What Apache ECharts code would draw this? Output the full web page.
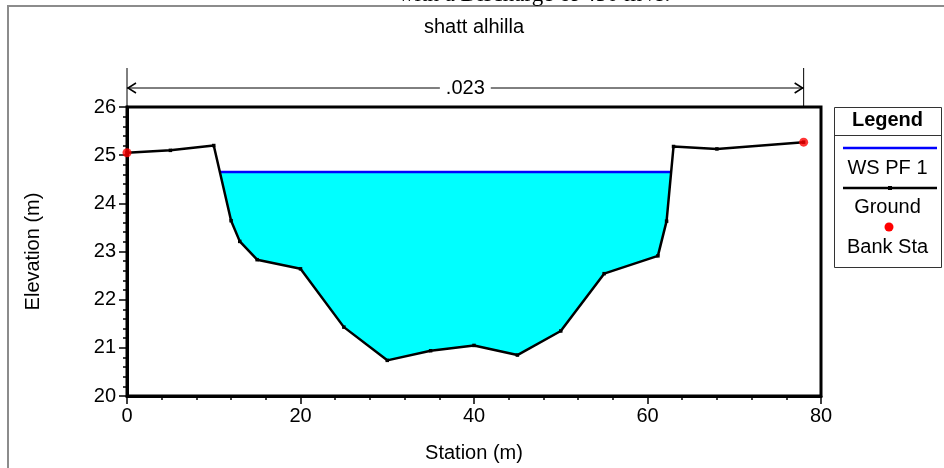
<!DOCTYPE html>
<html>
<head>
<meta charset="utf-8">
<script src="https://cdn.jsdelivr.net/npm/echarts@6/dist/echarts.min.js"></script>
<style>
html,body{margin:0;padding:0;background:#fff;}
#chart{width:944px;height:468px;}
</style>
</head>
<body>
<div id="chart"></div>
<script>
// ---- data ----
const titleText = 'with a Discharge of 450 m\u00b3/s.';
const subtitleText = 'shatt alhilla';
const stations = [0, 5, 10, 12, 13, 15, 20, 25, 30, 35, 40, 45, 50, 55, 61.2, 62.2, 63, 68, 78];
const elevations = [25.05, 25.1, 25.2, 23.64, 23.21, 22.83, 22.64, 21.43, 20.74, 20.94, 21.05, 20.85, 21.35, 22.54, 22.91, 23.63, 25.18, 25.13, 25.27];
const bankStations = [0, 78];
const bankElevations = [25.05, 25.27];
const wsStations = [10.64, 62.73];
const wsElevation = 24.65;
const nStations = [0, 78];
const nValue = '.023';
const xTicks = [0, 80, 20];   // min, max, step
const yTicks = [20, 26, 1];
const legendNames = ['WS PF 1', 'Ground', 'Bank Sta'];

const FONT = "'Liberation Sans', Arial, sans-serif";
const FS = 20;
const chart = echarts.init(document.getElementById('chart'), null, {renderer: 'canvas'});

const groundData = stations.map((s, i) => [s, elevations[i]]);
const bankData = bankStations.map((s, i) => [s, bankElevations[i]]);
const wsData = wsStations.map(s => [s, wsElevation]);
const waterPoly = [[wsStations[0], wsElevation]]
  .concat(groundData.filter(p => p[0] > wsStations[0] && p[0] < wsStations[1]))
  .concat([[wsStations[1], wsElevation]]);

function axisCommon() {
  return {
    type: 'value',
    axisLine: {show: true, onZero: false, lineStyle: {color: '#000', width: 3}},
    axisTick: {show: true, inside: false, length: 8, lineStyle: {color: '#000', width: 1.5}},
    minorTick: {show: true, splitNumber: 5, length: 4, lineStyle: {color: '#000', width: 1.5}},
    splitLine: {show: false},
    minorSplitLine: {show: false},
    axisLabel: {color: '#000', fontSize: FS, fontFamily: FONT},
    nameLocation: 'middle',
    nameTextStyle: {color: '#000', fontSize: FS, fontFamily: FONT}
  };
}

const xAxis = Object.assign(axisCommon(), {
  min: xTicks[0], max: xTicks[1], interval: xTicks[2],
  name: 'Station (m)', nameGap: 47
});
xAxis.axisLabel.margin = 10;
const yAxis = Object.assign(axisCommon(), {
  min: yTicks[0], max: yTicks[1], interval: yTicks[2],
  name: 'Elevation (m)', nameGap: 84
});
yAxis.axisLabel.margin = 11;

chart.setOption({
  animation: false,
  backgroundColor: '#fff',
  textStyle: {fontFamily: FONT},
  grid: {left: 127, right: 123, top: 107, bottom: 70, show: true,
         borderColor: '#000', borderWidth: 3, backgroundColor: 'transparent'},
  xAxis: xAxis,
  yAxis: yAxis,
  series: [
    {
      name: 'water', type: 'custom', data: [0], z: 1, silent: true,
      renderItem: function (params, api) {
        return {
          type: 'polygon',
          shape: {points: waterPoly.map(p => api.coord(p))},
          style: {fill: '#00ffff', stroke: null}
        };
      }
    },
    {
      name: legendNames[0], type: 'line', data: wsData, z: 3,
      symbol: 'none', lineStyle: {color: '#0000ff', width: 2.5}
    },
    {
      name: legendNames[1], type: 'line', data: groundData, z: 4, clip: false,
      symbol: 'rect', symbolSize: 3.5, showAllSymbol: true,
      itemStyle: {color: '#000'},
      lineStyle: {color: '#000', width: 2.5}
    },
    {
      name: legendNames[2], type: 'scatter', data: bankData, z: 5, clip: false,
      symbol: 'circle', symbolSize: 9, itemStyle: {color: '#ff0000'}
    }
  ]
});

// ---- overlay graphics (positions from the axes) ----
const xL = chart.convertToPixel({gridIndex: 0}, [nStations[0], yTicks[1]]);
const xR = chart.convertToPixel({gridIndex: 0}, [nStations[1], yTicks[1]]);
const topY = xL[1];
const dimY = 88, dimTop = 68;
const midX = (xL[0] + xR[0]) / 2;

const legX0 = 834, legX1 = 941, legY0 = 107, legY1 = 267;
const legCX = (legX0 + legX1) / 2;

const graphics = [
  // outer gray frame
  {type: 'rect', shape: {x: 8, y: 6, width: 1000, height: 1000},
   style: {fill: null, stroke: '#8c8c8c', lineWidth: 2}, z: 0, silent: true},
  // title (cut off at the top)
  {type: 'text', x: 398, y: -5, style: {text: titleText, font: "23px 'Liberation Serif', 'Times New Roman', serif",
   fill: '#000', align: 'left', verticalAlign: 'middle'}},
  {type: 'text', x: 474, y: 27, style: {text: subtitleText, font: FS + 'px ' + FONT,
   fill: '#000', align: 'center', verticalAlign: 'middle'}},
  // n-value dimension line
  {type: 'line', shape: {x1: xL[0], y1: dimTop, x2: xL[0], y2: topY}, style: {stroke: '#000', lineWidth: 1}},
  {type: 'line', shape: {x1: xR[0], y1: dimTop, x2: xR[0], y2: topY}, style: {stroke: '#000', lineWidth: 1}},
  {type: 'line', shape: {x1: xL[0], y1: dimY, x2: xR[0], y2: dimY}, style: {stroke: '#000', lineWidth: 1}},
  {type: 'polyline', shape: {points: [[xL[0] + 9, dimY - 5], [xL[0] + 1, dimY], [xL[0] + 9, dimY + 5]]},
   style: {stroke: '#000', lineWidth: 1.5, fill: null}},
  {type: 'polyline', shape: {points: [[xR[0] - 9, dimY - 5], [xR[0] - 1, dimY], [xR[0] - 9, dimY + 5]]},
   style: {stroke: '#000', lineWidth: 1.5, fill: null}},
  {type: 'text', x: midX, y: dimY, z: 10, style: {text: nValue, font: FS + 'px ' + FONT, fill: '#000',
   align: 'center', verticalAlign: 'middle', backgroundColor: '#fff', padding: [0, 6]}},
  // legend box
  {type: 'rect', shape: {x: legX0 + 0.5, y: legY0 + 0.5, width: legX1 - legX0, height: legY1 - legY0},
   style: {fill: '#fff', stroke: '#333', lineWidth: 1}},
  {type: 'line', shape: {x1: legX0, y1: 135.5, x2: legX1, y2: 135.5}, style: {stroke: '#333', lineWidth: 1}},
  {type: 'text', x: legCX, y: 120, style: {text: 'Legend', font: 'bold ' + FS + 'px ' + FONT, fill: '#000',
   align: 'center', verticalAlign: 'middle'}},
  {type: 'line', shape: {x1: 843, y1: 148, x2: 937, y2: 148}, style: {stroke: '#0000ff', lineWidth: 2.5}},
  {type: 'text', x: legCX, y: 168, style: {text: legendNames[0], font: FS + 'px ' + FONT, fill: '#000',
   align: 'center', verticalAlign: 'middle'}},
  {type: 'line', shape: {x1: 843, y1: 188, x2: 937, y2: 188}, style: {stroke: '#000', lineWidth: 2.5}},
  {type: 'rect', shape: {x: 888, y: 186, width: 4, height: 4}, style: {fill: '#000'}},
  {type: 'text', x: legCX, y: 207, style: {text: legendNames[1], font: FS + 'px ' + FONT, fill: '#000',
   align: 'center', verticalAlign: 'middle'}},
  {type: 'circle', shape: {cx: 889, cy: 227, r: 4.5}, style: {fill: '#ff0000'}},
  {type: 'text', x: legCX, y: 247, style: {text: legendNames[2], font: FS + 'px ' + FONT, fill: '#000',
   align: 'center', verticalAlign: 'middle'}}
];
chart.setOption({graphic: graphics});
</script>
</body>
</html>
